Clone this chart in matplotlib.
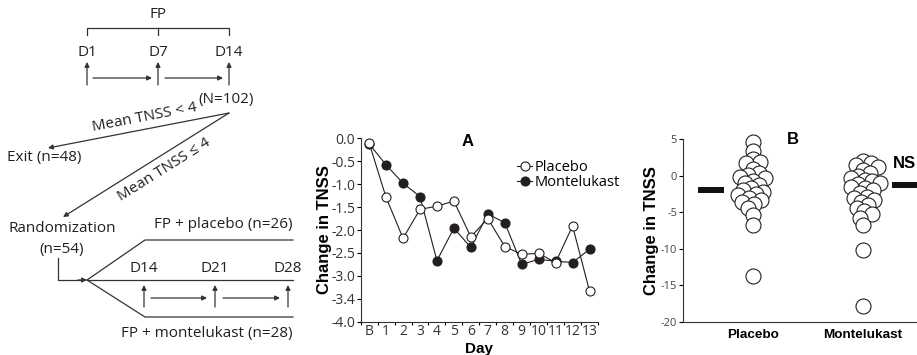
import numpy as np
import matplotlib
matplotlib.use("Agg")
import matplotlib.pyplot as plt

plt.rcParams['font.family'] = ['Open Sans', 'DejaVu Sans']
INK = "#231f20"
BOLD = ["Liberation Sans", "DejaVu Sans"]

# ---- panel A data: change in TNSS by day ----
days = ["B", "1", "2", "3", "4", "5", "6", "7", "8", "9", "10", "11", "12", "13"]
placebo_a = [-0.10, -1.29, -2.18, -1.55, -1.48, -1.37, -2.15, -1.75, -2.36,
             -2.53, -2.51, -2.71, -1.91, -3.33]
monte_a = [-0.12, -0.58, -0.98, -1.27, -2.67, -1.96, -2.38, -1.65, -1.84,
           -2.75, -2.64, -2.68, -2.71, -2.42]
ytick_a = [0.0, -0.5, -1.0, -1.5, -2.0, -2.5, -3.0, -3.5, -4.0]
ytick_a_lbl = ["0.0", "-0.5", "-1.0", "-1.5", "-2.0", "-2.5", "-3.0", "-3.4", "-4.0"]

# ---- panel B data: individual changes ----
groups = ["Placebo", "Montelukast"]
placebo_b = [4.6, 3.3, 2.2, 1.8, 1.7, 0.9, 0.3, 0.1, -0.2, -0.4, -0.7, -1.0, -1.3,
             -1.7, -2.0, -2.2, -2.5, -2.7, -3.1, -3.3, -3.6, -3.9, -4.5, -5.4,
             -6.8, -13.7]
monte_b = [2.0, 1.7, 1.5, 1.2, 0.8, 0.3, 0.0, -0.4, -0.6, -0.8, -1.0, -1.2, -1.5,
           -1.7, -2.0, -2.4, -2.9, -3.1, -3.3, -3.6, -4.0, -4.5, -4.9, -5.2,
           -5.8, -6.8, -10.2, -17.9]
means_b = [-2.0, -1.3]

fig = plt.figure(figsize=(9.17, 3.55), dpi=100)

# ---- flow diagram (pixel coordinates) ----
fa = fig.add_axes([0, 0, 1, 1])
fa.set_xlim(0, 917)
fa.set_ylim(355, 0)
fa.axis("off")
fs = 11
lk = dict(color="#333333", lw=0.9)
ap = dict(arrowstyle="-|>", color="#333333", lw=0.9, mutation_scale=7,
          shrinkA=0, shrinkB=0)


def arrow(x0, y0, x1, y1):
    fa.annotate("", xy=(x1, y1), xytext=(x0, y0), arrowprops=ap)


fa.text(158, 15, "FP", ha="center", va="center", fontsize=fs, color=INK)
fa.plot([87, 87, 229, 229], [35, 28, 28, 35], **lk)
fa.plot([158, 158], [28, 35], **lk)
for x, t in zip([87, 158, 229], ["D1", "D7", "D14"]):
    fa.text(x, 52, t, ha="center", va="center", fontsize=fs, color=INK)
    arrow(x, 85, x, 62)
arrow(93, 78, 152, 78)
arrow(165, 78, 223, 78)
fa.text(226, 100, "(N=102)", ha="center", va="center", fontsize=fs, color=INK)
arrow(229, 113, 48, 148)
fa.text(145, 118, "Mean TNSS < 4", ha="center", va="center", fontsize=fs,
        color=INK, rotation=10.9, rotation_mode="anchor")
fa.text(7, 158, "Exit (n=48)", ha="left", va="center", fontsize=fs, color=INK)
arrow(229, 113, 63, 217)
fa.text(164, 170, "Mean TNSS \u2264 4", ha="center", va="center", fontsize=fs,
        color=INK, rotation=32.1, rotation_mode="anchor")
fa.text(62, 229, "Randomization", ha="center", va="center", fontsize=fs, color=INK)
fa.text(62, 250, "(n=54)", ha="center", va="center", fontsize=fs, color=INK)
fa.plot([58, 58, 80], [258, 280, 280], **lk)
arrow(78, 280, 87, 280)
fa.plot([87, 145, 293], [280, 240, 240], **lk)
fa.plot([87, 293], [280, 280], **lk)
fa.plot([87, 145, 293], [280, 317, 317], **lk)
fa.text(223, 225, "FP + placebo (n=26)", ha="center", va="center", fontsize=fs, color=INK)
for x, t in zip([144, 215, 288], ["D14", "D21", "D28"]):
    fa.text(x, 268, t, ha="center", va="center", fontsize=fs, color=INK)
    arrow(x, 307, x, 285)
arrow(151, 298, 207, 298)
arrow(223, 298, 280, 298)
fa.text(207, 333, "FP + montelukast (n=28)", ha="center", va="center", fontsize=fs, color=INK)

# ---- panel A ----
ax = fig.add_axes([0.3933, 0.0938, 0.2588, 0.5166])
x = np.arange(len(days))
ax.plot(x, monte_a, "-o", color=INK, lw=0.8, ms=6.5, mfc=INK, mec=INK, mew=0.8,
        label="Montelukast", zorder=3)
ax.plot(x, placebo_a, "-o", color=INK, lw=0.8, ms=6.5, mfc="white", mec=INK,
        mew=0.8, label="Placebo", zorder=4)
ax.set_xlim(-0.5, 13.5)
ax.set_ylim(-4.0, 0.0)
ax.set_xticks(x)
ax.set_xticklabels(days, fontsize=10, color="#333333")
ax.set_xticks(np.arange(-0.5, 14, 1), minor=True)
ax.tick_params(axis="x", which="major", length=0, pad=2)
ax.tick_params(axis="x", which="minor", length=2.5, width=0.8, direction="out")
ax.set_yticks(ytick_a)
ax.set_yticklabels(ytick_a_lbl, fontsize=10, color="#333333")
ax.tick_params(axis="y", length=3, width=0.8, pad=1)
for s in ["top", "right"]:
    ax.spines[s].set_visible(False)
for s in ["left", "bottom"]:
    ax.spines[s].set_linewidth(0.8)
    ax.spines[s].set_color("#333333")
ax.set_ylabel("Change in TNSS", fontsize=12, fontweight="bold", family=BOLD,
              labelpad=-1)
ax.set_xlabel("Day", fontsize=11, fontweight="bold", family=BOLD, labelpad=2)
ax.text(5.8, -0.08, "A", ha="center", va="center", fontsize=12, fontweight="bold",
        family=BOLD)
h, l = ax.get_legend_handles_labels()
ax.legend(h[::-1], l[::-1], loc="center left", bbox_to_anchor=(0.66, 0.8),
          frameon=False, fontsize=10.5, handletextpad=0.2, labelspacing=0.05,
          handlelength=1.0, borderaxespad=0, borderpad=0)

# ---- panel B ----
bx = fig.add_axes([0.7445, 0.0938, 0.2555, 0.5146])
bx.set_xlim(-0.636, 1.49)
bx.set_ylim(-20, 5)
xscale = bx.bbox.width / (1.49 + 0.636)
yscale = bx.bbox.height / 25.0


def swarm(vals, center, d_px):
    placed = []
    xs = []
    for v in vals:
        y = v * yscale
        off = None
        k = 0
        while off is None:
            for cand in ([0.0] if k == 0 else [k * 0.5, -k * 0.5]):
                if all((cand - px) ** 2 + (y - py) ** 2 >= d_px ** 2 for px, py in placed):
                    off = cand
                    break
            k += 1
        placed.append((off, y))
        xs.append(center + off / xscale)
    return xs


for i, vals in enumerate([placebo_b, monte_b]):
    xs = swarm(vals, i, 7.5)
    bx.plot(xs, vals, "o", ms=10.8, mfc="white", mec=INK, mew=0.8, zorder=3,
            clip_on=False)
side = [-1, 1]
for i, m in enumerate(means_b):
    bx.plot([i + side[i] * 0.26, i + side[i] * 0.5], [m, m], color="#111111",
            lw=4.3, solid_capstyle="butt", clip_on=False)
bx.set_xticks([0, 1])
bx.set_xticklabels(groups, fontsize=9.7, fontweight="bold", family=BOLD)
bx.tick_params(axis="x", length=0, pad=5)
bx.set_yticks([5, 0, -5, -10, -15, -20])
bx.set_yticklabels(["5", "0", "-5", "-10", "-15", "-20"], fontsize=8, color="#444444")
bx.tick_params(axis="y", length=3, width=0.8, pad=1)
for s in ["top", "right"]:
    bx.spines[s].set_visible(False)
for s in ["left", "bottom"]:
    bx.spines[s].set_linewidth(0.8)
    bx.spines[s].set_color("#333333")
bx.set_ylabel("Change in TNSS", fontsize=12, fontweight="bold", family=BOLD,
              labelpad=1.5)
bx.text(0.36, 5, "B", ha="center", va="center", fontsize=12, fontweight="bold",
        family=BOLD)
bx.text(1.27, 1.7, "NS", ha="left", va="center", fontsize=12, fontweight="bold",
        family=BOLD, clip_on=False)

fig.savefig("out.png", dpi=100)
